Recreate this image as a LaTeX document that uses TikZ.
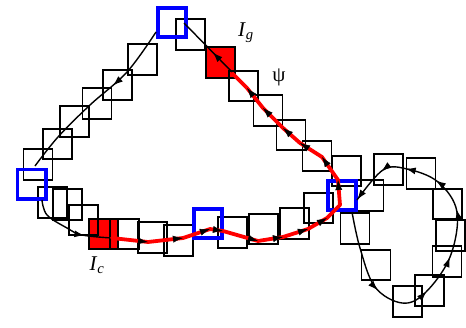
\documentclass[tikz,border=0pt]{standalone}
\usepackage{fontspec}
\setmainfont{Liberation Serif}
\usetikzlibrary{arrows.meta,decorations.markings}
\tikzset{
  sq/.style={draw=black, line width=1.9pt, minimum width=29pt, minimum height=30.5pt, inner sep=0pt, outer sep=0pt},
  keysq/.style={draw=blue, line width=3.8pt, minimum width=28.2pt, minimum height=29.2pt, inner sep=0pt, outer sep=0pt},
  redsq/.style={sq, fill=red},
  redline/.style={draw=red, line width=3.8pt, line cap=round, line join=round},
  curve/.style={draw=black, line width=1.4pt},
  endtip/.style={postaction={decorate, decoration={markings, mark=at position 0.999 with {\arrow[black]{Latex[length=10pt,width=7pt]}}}}},
  arrowat/.style={postaction={decorate, decoration={markings, mark=at position #1 with {\arrow[black]{Latex[length=10pt,width=7pt]}}}}},
  lab/.style={font=\fontsize{21}{24}\selectfont, inner sep=0pt},
}
\begin{document}
\begin{tikzpicture}[x=1pt,y=-1pt]
\useasboundingbox (0,0) rectangle (466,327);
% red filled squares first
\node[redsq] (ig) at (220.5,62.5) {};
\node[redsq] (ic) at (103.5,234) {};
% black squares
\node[sq] (s2) at (190.5,34.5) {};
\node[sq] (s4) at (243.5,86) {};
\node[sq] (s5) at (268,110.5) {};
\node[sq] (s6) at (291,135) {};
\node[sq] (s7) at (317,156) {};
\node[sq] (s8) at (346.5,171) {};
\node[sq] (s10) at (369,195.5) {};
\node[sq] (s11) at (388.5,169.5) {};
\node[sq] (s12) at (421,173.5) {};
\node[sq] (s13) at (447.5,204) {};
\node[sq] (s14) at (450.5,235.5) {};
\node[sq] (s15) at (447,261.5) {};
\node[sq] (s16) at (429.5,290.5) {};
\node[sq] (s17) at (407.5,301.5) {};
\node[sq] (s18) at (376,265) {};
\node[sq] (s19) at (355,228.5) {};
\node[sq] (s20) at (318.5,208) {};
\node[sq] (s21) at (294.5,223.5) {};
\node[sq] (s22) at (263.5,229) {};
\node[sq] (s23) at (232.5,232.5) {};
\node[sq] (s25) at (178.5,240.5) {};
\node[sq] (s26) at (152.5,237.5) {};
\node[sq] (s27) at (124.5,234) {};
\node[sq] (s29) at (83.5,220) {};
\node[sq] (s30) at (67.5,204.5) {};
\node[sq] (s31) at (52.5,202.5) {};
\node[sq] (s33) at (38,164.5) {};
\node[sq] (s34) at (57.5,144) {};
\node[sq] (s35) at (74.5,121.5) {};
\node[sq] (s36) at (97,103.5) {};
\node[sq] (s37) at (117.5,85) {};
\node[sq] (s38) at (142.5,59.5) {};
% key (blue) squares
\node[keysq] (kT) at (172,22.5) {};
\node[keysq] (kL) at (31.5,184) {};
\node[keysq] (kB) at (208,223.5) {};
\node[keysq] (kR) at (342,195.5) {};
% path coordinates
\coordinate (b0) at (232,72);
\coordinate (b1) at (184,23);
\coordinate (a0) at (156,32);
\coordinate (a1) at (127,72);
\coordinate (a2) at (90,105);
\coordinate (a3) at (58,137);
\coordinate (a4) at (35,166);
\coordinate (c0) at (42,200);
\coordinate (c1) at (47,215);
\coordinate (c2) at (67,228);
\coordinate (c3) at (82,235);
\coordinate (r0) at (112,238);
\coordinate (r1) at (148,242);
\coordinate (r2) at (183,238);
\coordinate (r3) at (210,229);
\coordinate (r4) at (223,231);
\coordinate (r5) at (258,241);
\coordinate (r6) at (283,237);
\coordinate (r7) at (308,229);
\coordinate (r8) at (327,218);
\coordinate (r9) at (340,205);
\coordinate (r10) at (338,180);
\coordinate (r11) at (322,157);
\coordinate (r12) at (300,143);
\coordinate (r13) at (283,128);
\coordinate (r14) at (263,108);
\coordinate (r15) at (247,88);
\coordinate (r16) at (233,74);
\coordinate (q0) at (352,212);
\coordinate (q1) at (360,248);
\coordinate (q2) at (375,287);
\coordinate (q3) at (402,303);
\coordinate (q4) at (425,293);
\coordinate (q5) at (450,257);
\coordinate (q6) at (457,212);
\coordinate (q7) at (438,182);
\coordinate (q8) at (407,169);
\coordinate (q9) at (383,170);
\coordinate (q10) at (357,200);
% black connectors
\draw[curve, arrowat=0.40] (b0) -- (b1);
\draw[curve, arrowat=0.38] plot[smooth, tension=0.6] coordinates {(a0) (a1) (a2) (a3) (a4)};
\draw[curve, arrowat=0.68] plot[smooth, tension=0.6] coordinates {(c0) (c1) (c2) (c3) (r0)};
\draw[curve, arrowat=0.23, arrowat=0.385, arrowat=0.50, arrowat=0.635, arrowat=0.735, arrowat=0.825, arrowat=0.895, endtip]
  plot[smooth, tension=0.6] coordinates {(q0) (q1) (q2) (q3) (q4) (q5) (q6) (q7) (q8) (q9) (q10)};
% red path
\draw[redline] (r0) -- (r1) -- (r2) -- (r3) -- (r4) -- (r5) -- (r6) -- (r7) -- (r8) -- (r9) -- (r10) -- (r11) -- (r12) -- (r13) -- (r14) -- (r15) -- (r16);
\foreach \u/\v in {r0/r1, r1/r2, r2/r3, r3/r4, r4/r5, r5/r6, r6/r7, r7/r8, r9/r10, r10/r11, r11/r12, r12/r13, r13/r14, r14/r15}
  \path[endtip] (\u) -- (\v);
% labels
\node[lab] (lg) at (246,33) {\textit{I}\textsubscript{\textit{g}}};
\node[lab] (lpsi) at (279,77) {ψ};
\node[lab] (lc) at (97,265) {\textit{I}\textsubscript{\textit{c}}};
\end{tikzpicture}
\end{document}
